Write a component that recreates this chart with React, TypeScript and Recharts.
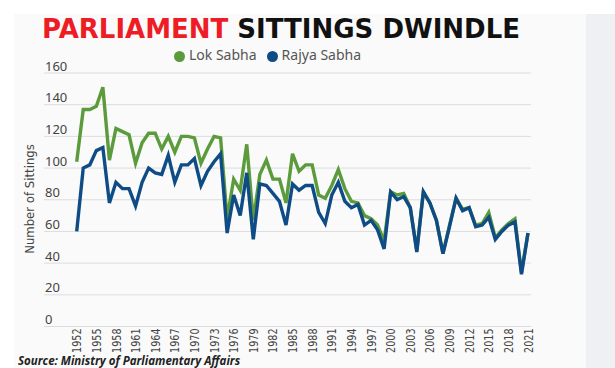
import React from 'react';
import { LineChart, Line, XAxis, YAxis, CartesianGrid, Legend } from 'recharts';

const years = [
  1952, 1953, 1954, 1955, 1956, 1957, 1958, 1959, 1960, 1961,
  1962, 1963, 1964, 1965, 1966, 1967, 1968, 1969, 1970, 1971,
  1972, 1973, 1974, 1975, 1976, 1977, 1978, 1979, 1980, 1981,
  1982, 1983, 1984, 1985, 1986, 1987, 1988, 1989, 1990, 1991,
  1992, 1993, 1994, 1995, 1996, 1997, 1998, 1999, 2000, 2001,
  2002, 2003, 2004, 2005, 2006, 2007, 2008, 2009, 2010, 2011,
  2012, 2013, 2014, 2015, 2016, 2017, 2018, 2019, 2020, 2021,
];

const lokSabha = [
  104, 137, 137, 139, 151, 105, 125, 123, 121, 103,
  116, 122, 122, 112, 120, 110, 120, 120, 119, 103,
  112, 120, 119, 68, 93, 86, 115, 67, 96, 105,
  93, 93, 78, 109, 98, 102, 102, 83, 81, 89,
  99, 87, 79, 78, 70, 68, 64, 54, 85, 83,
  84, 75, 48, 85, 78, 67, 46, 64, 81, 74,
  75, 64, 65, 72, 56, 61, 65, 68, 34, 59,
];

const rajyaSabha = [
  60, 100, 102, 111, 113, 78, 91, 87, 87, 76,
  91, 100, 97, 96, 108, 91, 102, 102, 106, 89,
  98, 104, 109, 59, 83, 70, 97, 55, 90, 89,
  84, 79, 64, 90, 86, 89, 89, 72, 65, 83,
  91, 79, 75, 77, 64, 67, 61, 49, 85, 80,
  82, 75, 47, 85, 78, 67, 46, 63, 81, 73,
  75, 63, 64, 69, 55, 60, 64, 66, 33, 59,
];

const yearTicks = [
  1952, 1955, 1958, 1961, 1964, 1967, 1970, 1973, 1976, 1979, 1982, 1985,
  1988, 1991, 1994, 1997, 2000, 2003, 2006, 2009, 2012, 2015, 2018, 2021,
];
const sittingTicks = [0, 20, 40, 60, 80, 100, 120, 140, 160];

const data = years.map((year, i) => ({
  year,
  lok: lokSabha[i],
  rajya: rajyaSabha[i],
}));

const narrow = '"Liberation Sans Narrow", "DejaVu Sans Condensed", Arial, sans-serif';
const sans = '"Noto Sans", "Open Sans", sans-serif';

// rotated year labels, squeezed along the text like the condensed face in the original
const YearTick = (props: any) => {
  const { x, y, payload } = props;
  return (
    <text
      transform={`translate(${x},${y}) rotate(-90) scale(0.82,1)`}
      textAnchor="end"
      dy="0.35em"
      fontSize={13}
      fontFamily={narrow}
      fill="#444"
    >
      {payload.value}
    </text>
  );
};

// y labels sit just above their gridline, left aligned
const SittingTick = (props: any) => {
  const { y, payload } = props;
  return (
    <text x={45} y={y - 2.5} textAnchor="start" fontSize={13} fontFamily={sans} fill="#444">
      {payload.value}
    </text>
  );
};

export default function App() {
  return (
    <div
      style={{
        position: 'absolute',
        left: 0,
        top: 0,
        width: 615,
        height: 368,
        background: '#ffffff',
        overflow: 'hidden',
      }}
    >
      {/* soft panel behind the chart */}
      <div style={{ position: 'absolute', left: 14, top: 14, width: 572, height: 354, background: '#fafafa' }} />
      <div style={{ position: 'absolute', left: 586, top: 14, width: 29, height: 354, background: '#eff0f3' }} />

      <div
        style={{
          position: 'absolute',
          left: 42,
          top: 16,
          fontFamily: '"DejaVu Sans", sans-serif',
          fontWeight: 700,
          fontSize: 26,
          lineHeight: '26px',
          whiteSpace: 'nowrap',
        }}
      >
        <span style={{ color: '#ee1c25' }}>PARLIAMENT</span>
        <span style={{ color: '#111' }}> SITTINGS DWINDLE</span>
      </div>

      <div
        style={{
          position: 'absolute',
          left: -30,
          top: 191,
          width: 120,
          textAlign: 'center',
          transform: 'rotate(-90deg)',
          fontFamily: narrow,
          fontSize: 13,
          color: '#444',
          lineHeight: '16px',
        }}
      >
        Number of Sittings
      </div>

      <div style={{ position: 'absolute', left: 0, top: 0 }}>
        <LineChart
          width={615}
          height={368}
          data={data}
          margin={{ top: 73, right: 84, left: 0, bottom: 11.5 }}
        >
          <CartesianGrid vertical={false} stroke="#dcdcdc" strokeWidth={1} />
          <XAxis
            dataKey="year"
            type="category"
            ticks={yearTicks}
            interval={0}
            height={30}
            padding={{ left: 32.7, right: 3 }}
            axisLine={false}
            tickLine={false}
            tickSize={0}
            tickMargin={2}
            tick={<YearTick />}
          />
          <YAxis
            width={44}
            domain={[0, 160]}
            ticks={sittingTicks}
            interval={0}
            axisLine={false}
            tickLine={false}
            tick={<SittingTick />}
          />
          <Legend
            layout="horizontal"
            verticalAlign="middle"
            align="center"
            iconType="circle"
            iconSize={11}
            wrapperStyle={{ top: 45, left: 174, width: 'auto', fontFamily: sans, fontSize: 14 }}
            formatter={(value: string) => <span style={{ color: '#555' }}>{value}</span>}
          />
          <Line
            type="linear"
            dataKey="lok"
            name="Lok Sabha"
            stroke="#5b9b3b"
            strokeWidth={3.4}
            dot={false}
            isAnimationActive={false}
          />
          <Line
            type="linear"
            dataKey="rajya"
            name="Rajya Sabha"
            stroke="#0f4c86"
            strokeWidth={3.4}
            dot={false}
            isAnimationActive={false}
          />
        </LineChart>
      </div>

      <div
        style={{
          position: 'absolute',
          left: 18,
          top: 354,
          fontFamily: '"Open Sans", sans-serif',
          fontWeight: 700,
          fontStyle: 'italic',
          fontSize: 11.5,
          lineHeight: '13px',
          color: '#222',
          whiteSpace: 'nowrap',
        }}
      >
        Source: Ministry of Parliamentary Affairs
      </div>
    </div>
  );
}
